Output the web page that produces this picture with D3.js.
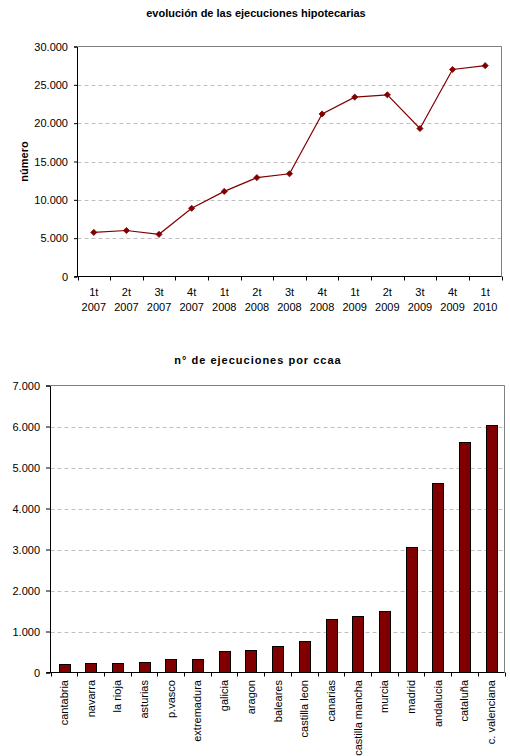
<!DOCTYPE html>
<html>
<head>
<meta charset="utf-8">
<script src="https://cdn.jsdelivr.net/npm/d3@7"></script>
<style>
  body { margin: 0; background: #ffffff; }
  text { font-family: "Liberation Sans", Arial, sans-serif; fill: #000; }
</style>
</head>
<body>
<div class="chart"></div>
<script>
const svgWidth = 510;
const svgHeight = 756;

// datos: evolución trimestral
const quarters = ["1t 2007", "2t 2007", "3t 2007", "4t 2007", "1t 2008", "2t 2008", "3t 2008",
    "4t 2008", "1t 2009", "2t 2009", "3t 2009", "4t 2009", "1t 2010"];
const ejecuciones = [5750, 6000, 5500, 8900, 11100, 12900, 13400, 21200, 23400, 23700, 19300, 27000, 27500];
const lineTicks = [0, 5000, 10000, 15000, 20000, 25000, 30000];

// datos: por comunidad autónoma
const ccaa = ["cantabria", "navarra", "la rioja", "asturias", "p.vasco", "extremadura", "galicia",
    "aragon", "baleares", "castilla leon", "canarias", "castilla mancha", "murcia", "madrid",
    "andalucia", "cataluña", "c. valenciana"];
const ejecucionesCcaa = [200, 220, 220, 250, 340, 340, 520, 540, 640, 780, 1300, 1390, 1510, 3070,
    4630, 5610, 6030];
const barTicks = [0, 1000, 2000, 3000, 4000, 5000, 6000, 7000];

const red = "#800000";
const fmt = d3.formatLocale({ decimal: ",", thousands: ".", grouping: [3], currency: ["", "€"] }).format(",d");

const svg = d3.select(".chart")
    .append("svg")
    .attr("width", svgWidth)
    .attr("height", svgHeight);

/**
 * gráfico 1: líneas
 */
const l = { left: 77.5, right: 501.5, top: 46.5, bottom: 276.5 };
const x1 = d3.scaleBand().domain(quarters).range([l.left, l.right]);
const y1 = d3.scaleLinear().domain([0, 30000]).range([l.bottom, l.top]);

svg.append("text")
    .attr("x", 256).attr("y", 17)
    .attr("text-anchor", "middle")
    .attr("font-size", "11px").attr("font-weight", "bold")
    .text("evolución de las ejecuciones hipotecarias");

// rejilla
svg.append("g").selectAll("line")
    .data(lineTicks.filter(d => d > 0 && d < 30000))
    .join("line")
    .attr("x1", l.left).attr("x2", l.right)
    .attr("y1", d => Math.round(y1(d)) + 0.5).attr("y2", d => Math.round(y1(d)) + 0.5)
    .attr("stroke", "#c0c0c0").attr("stroke-dasharray", "4,3");

// marco
svg.append("path")
    .attr("d", `M${l.left},${l.top}H${l.right}V${l.bottom}`)
    .attr("fill", "none").attr("stroke", "#808080");

const yAxis1 = svg.append("g")
    .attr("transform", `translate(${l.left - 0.5},0)`)
    .call(d3.axisLeft(y1).tickValues(lineTicks).tickFormat(fmt).tickSize(3).tickPadding(6).offset(0.5));
yAxis1.select(".domain").attr("stroke", "#000");
yAxis1.selectAll("text").attr("font-size", "11px").attr("font-family", null);

// eje x con marcas entre categorías
svg.append("line")
    .attr("x1", l.left - 3).attr("x2", l.right)
    .attr("y1", l.bottom).attr("y2", l.bottom)
    .attr("stroke", "#000");
svg.append("g").selectAll("line")
    .data(quarters.map(d => x1(d)).concat([l.right]))
    .join("line")
    .attr("x1", d => Math.round(d) + 0.5).attr("x2", d => Math.round(d) + 0.5)
    .attr("y1", l.bottom).attr("y2", l.bottom + 4)
    .attr("stroke", "#000");

const qLabels = svg.append("g").selectAll("text")
    .data(quarters)
    .join("text")
    .attr("text-anchor", "middle")
    .attr("font-size", "11px");
qLabels.append("tspan")
    .attr("x", d => x1(d) + x1.bandwidth() / 2).attr("y", 296)
    .text(d => d.split(" ")[0]);
qLabels.append("tspan")
    .attr("x", d => x1(d) + x1.bandwidth() / 2).attr("y", 311)
    .text(d => d.split(" ")[1]);

svg.append("text")
    .attr("transform", `translate(28,${(l.top + l.bottom) / 2}) rotate(-90)`)
    .attr("text-anchor", "middle")
    .attr("font-size", "11px").attr("font-weight", "bold")
    .text("número");

const line = d3.line()
    .x((d, i) => x1(quarters[i]) + x1.bandwidth() / 2)
    .y(d => y1(d));

svg.append("path")
    .datum(ejecuciones)
    .attr("d", line)
    .attr("fill", "none").attr("stroke", red).attr("stroke-width", 1.2);

svg.append("g").selectAll("path")
    .data(ejecuciones)
    .join("path")
    .attr("d", d3.symbol(d3.symbolDiamond2, 24))
    .attr("transform", (d, i) => `translate(${x1(quarters[i]) + x1.bandwidth() / 2},${y1(d)})`)
    .attr("fill", red).attr("stroke", red).attr("stroke-width", 0.8);

/**
 * gráfico 2: barras
 */
const b = { left: 50.5, right: 504.5, top: 385.5, bottom: 672.5 };
const slot = d3.scaleBand().domain(ccaa).range([b.left, b.right]);
const x2 = d3.scaleBand().domain(ccaa).range([b.left, b.right]).paddingInner(0.6).paddingOuter(0.3);
const y2 = d3.scaleLinear().domain([0, 7000]).range([b.bottom, b.top]);

svg.append("text")
    .attr("x", 258).attr("y", 364)
    .attr("text-anchor", "middle")
    .attr("font-size", "11px").attr("font-weight", "bold")
    .attr("letter-spacing", "1px")
    .text("n° de ejecuciones por ccaa");

svg.append("g").selectAll("line")
    .data(barTicks.filter(d => d > 0 && d < 7000))
    .join("line")
    .attr("x1", b.left).attr("x2", b.right)
    .attr("y1", d => Math.round(y2(d)) + 0.5).attr("y2", d => Math.round(y2(d)) + 0.5)
    .attr("stroke", "#c0c0c0").attr("stroke-dasharray", "4,3");

svg.append("path")
    .attr("d", `M${b.left},${b.top}H${b.right}V${b.bottom}`)
    .attr("fill", "none").attr("stroke", "#808080");

svg.append("g").selectAll("rect")
    .data(ejecucionesCcaa)
    .join("rect")
    .attr("x", (d, i) => Math.round(x2(ccaa[i])) + 0.5)
    .attr("width", Math.round(x2.bandwidth()))
    .attr("y", d => Math.round(y2(d)) + 0.5)
    .attr("height", d => b.bottom - Math.round(y2(d)) - 0.5)
    .attr("fill", red).attr("stroke", "#000");

const yAxis2 = svg.append("g")
    .attr("transform", `translate(${b.left - 0.5},0)`)
    .call(d3.axisLeft(y2).tickValues(barTicks).tickFormat(fmt).tickSize(4).tickPadding(6).offset(0.5));
yAxis2.select(".domain").attr("stroke", "#000");
yAxis2.selectAll("text").attr("font-size", "11px").attr("font-family", null);

svg.append("line")
    .attr("x1", b.left - 4).attr("x2", b.right)
    .attr("y1", b.bottom).attr("y2", b.bottom)
    .attr("stroke", "#000");
svg.append("g").selectAll("line")
    .data(ccaa.map(d => slot(d)).concat([b.right]))
    .join("line")
    .attr("x1", d => Math.round(d) + 0.5).attr("x2", d => Math.round(d) + 0.5)
    .attr("y1", b.bottom).attr("y2", b.bottom + 4)
    .attr("stroke", "#000");

svg.append("g").selectAll("text")
    .data(ccaa)
    .join("text")
    .attr("transform", d => `translate(${slot(d) + slot.bandwidth() / 2 + 4},680) rotate(-90)`)
    .attr("text-anchor", "end")
    .attr("font-size", "11px")
    .text(d => d);
</script>
</body>
</html>
